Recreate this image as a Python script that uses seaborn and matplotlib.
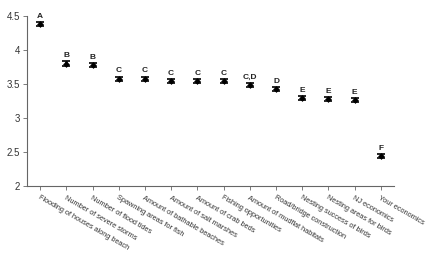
import matplotlib
matplotlib.use("Agg")
import matplotlib.pyplot as plt
import seaborn as sns
import pandas as pd

categories = ["Flooding of houses along beach", "Number of severe storms", "Number of flood tides",
              "Spawning areas for fish", "Amount of bathable beaches", "Amount of salt marshes",
              "Amount of crab beds", "Fishing opportunities", "Amount of mudflat habitats",
              "Road/bridge construction", "Nesting success of birds", "Nesting areas for birds",
              "NJ economics", "Your economics"]
means = [4.38, 3.80, 3.78, 3.58, 3.58, 3.54, 3.54, 3.54, 3.48, 3.42, 3.29, 3.28, 3.27, 2.44]
errors = [0.03, 0.04, 0.03, 0.03, 0.03, 0.03, 0.03, 0.03, 0.03, 0.03, 0.03, 0.03, 0.03, 0.03]
letters = ["A", "B", "B", "C", "C", "C", "C", "C", "C,D", "D", "E", "E", "E", "F"]

df = pd.DataFrame({"cat": categories, "mean": means, "err": errors, "letter": letters})
df["x"] = range(len(df))

sns.set_style("white")
plt.rcParams["font.family"] = ["Liberation Sans", "DejaVu Sans"]

fig = plt.figure(figsize=(4.27, 2.54), dpi=100)
ax = fig.add_axes([27/427, 1 - 186/254, (394-27)/427, (186-16)/254])

ax.errorbar(df["x"], df["mean"], yerr=df["err"], fmt="none", ecolor="black",
            elinewidth=1.8, capsize=2.8, capthick=1.2)
sns.scatterplot(data=df, x="x", y="mean", marker="D", s=10, color="black",
                edgecolor="black", ax=ax, legend=False, zorder=3)

for xi, m, e, l in zip(df["x"], df["mean"], df["err"], df["letter"]):
    ax.text(xi, m + e + 0.03, l, ha="center", va="bottom", fontsize=6,
            fontweight="bold", color="#222222")

ax.set_xlim(-0.5, 13.5)
ax.set_ylim(2, 4.5)
ax.set_yticks([2, 2.5, 3, 3.5, 4, 4.5])
ax.set_yticklabels(["2", "2.5", "3", "3.5", "4", "4.5"])
ax.set_xticks(df["x"])
ax.set_xticklabels(df["cat"], rotation=-30, ha="left", va="top", rotation_mode="anchor")
ax.tick_params(axis="x", labelsize=5.3, colors="#666666", length=3, width=0.6, direction="out",
               bottom=True, pad=3, labelcolor="#333333")
ax.tick_params(axis="y", labelsize=7, length=3, width=0.6, direction="out", left=True,
               pad=2, labelcolor="#333333", color="#666666")
ax.set_xlabel("")
ax.set_ylabel("")
for s in ["top", "right"]:
    ax.spines[s].set_visible(False)
for s in ["left", "bottom"]:
    ax.spines[s].set_color("#666666")
    ax.spines[s].set_linewidth(0.8)

fig.savefig("out.png", dpi=100)
